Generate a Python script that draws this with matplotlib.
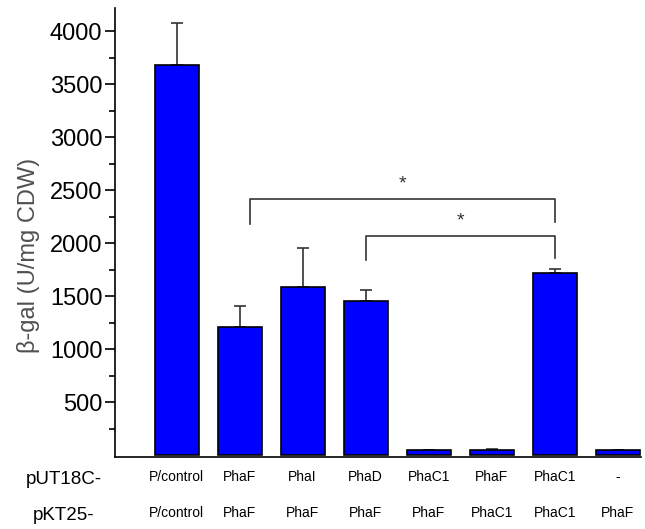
import matplotlib.pyplot as plt
import numpy as np

plt.rcParams['font.family'] = ['Liberation Sans', 'DejaVu Sans']

put18c = ['P/control', 'PhaF', 'PhaI', 'PhaD', 'PhaC1', 'PhaF', 'PhaC1', '-']
pkt25 = ['P/control', 'PhaF', 'PhaF', 'PhaF', 'PhaF', 'PhaC1', 'PhaC1', 'PhaF']
values = [3680, 1210, 1590, 1450, 45, 45, 1720, 45]
errors = [400, 195, 365, 110, 0, 12, 38, 0]

# significance brackets: (left bar, right bar, top, left leg end, right leg end)
brackets = [(1, 6, 2415, 2180, 2200), (3, 6, 2066, 1840, 1860)]

fig = plt.figure(figsize=(6.45, 5.29), dpi=100)
ax = fig.add_axes([0.178, 0.136, 0.816, 0.849])

x = np.arange(len(values))
ax.bar(x, values, width=0.7, color='#0000ff', edgecolor='black', linewidth=1.2, zorder=2)
ax.errorbar(x, values, yerr=[np.zeros(len(errors)), errors], fmt='none',
            ecolor='#333333', elinewidth=1.2, capsize=4, capthick=1.2, zorder=1)

for i, (a, b, top, la, lb) in enumerate(brackets):
    xa = a + (0.16 if i == 0 else 0)
    ax.plot([xa, xa, b, b], [la, top, top, lb], color='#333333', lw=1.2)
    ax.text((xa + b) / 2, top + 60, '*', ha='center', va='bottom', fontsize=14, color='#333333')

ax.set_xlim(-0.98, 7.37)
ax.set_ylim(-19, 4221)
ax.set_yticks(np.arange(500, 4001, 500))
ax.set_yticks(np.arange(250, 4001, 250), minor=True)
ax.tick_params(axis='y', which='major', labelsize=17, length=7, width=1.2, pad=2)
ax.tick_params(axis='y', which='minor', length=4, width=1.2)
ax.set_xticks([])
ax.spines['top'].set_visible(False)
ax.spines['right'].set_visible(False)
ax.spines['left'].set_linewidth(1.2)
ax.spines['bottom'].set_linewidth(1.2)
ax.set_ylabel('β-gal (U/mg CDW)', fontsize=17, color='#505050')
ax.yaxis.set_label_coords(-0.143, 0.45)

for xi, (t1, t2) in enumerate(zip(put18c, pkt25)):
    ax.annotate(t1, (xi, 0), xytext=(0, -14.4), textcoords='offset points', xycoords=('data', 'axes fraction'),
                ha='center', va='center', fontsize=10)
    ax.annotate(t2, (xi, 0), xytext=(0, -40.3), textcoords='offset points', xycoords=('data', 'axes fraction'),
                ha='center', va='center', fontsize=10)
fig.text(64 / 645, 1 - 479 / 529, 'pUT18C-', ha='center', va='center', fontsize=13.5)
fig.text(64 / 645, 1 - 515 / 529, 'pKT25-', ha='center', va='center', fontsize=13.5)

fig.savefig('out.png', dpi=100)
